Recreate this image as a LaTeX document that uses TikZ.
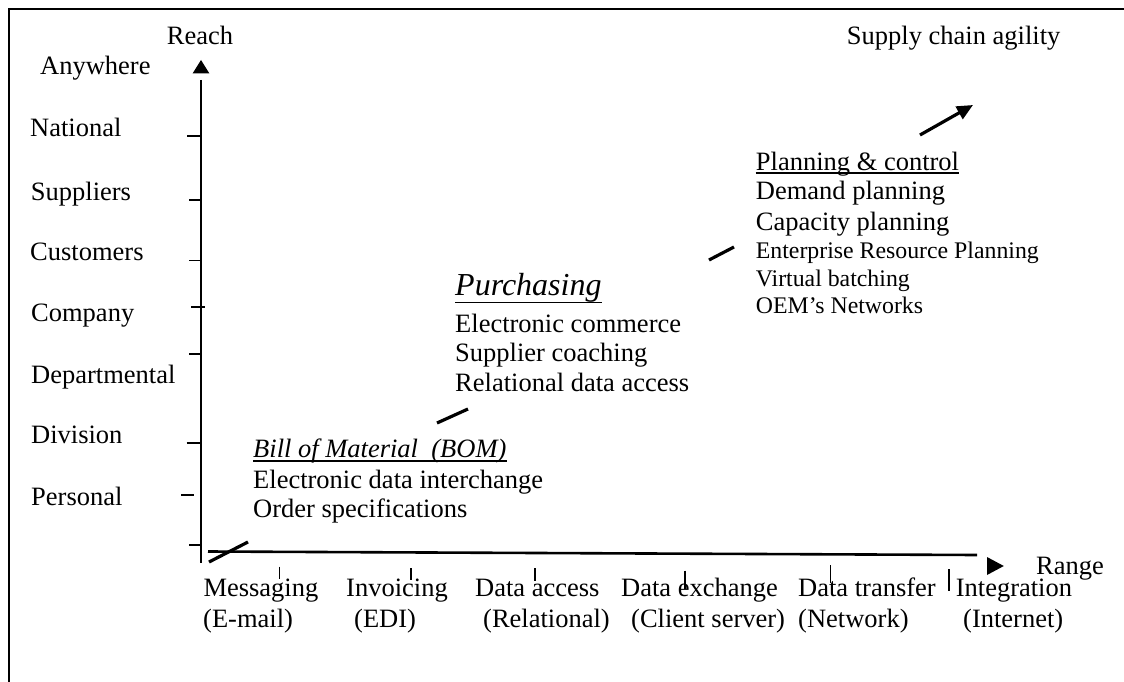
\documentclass[tikz,border=0pt]{standalone}
\usepackage{fontspec}
\setmainfont{Liberation Serif}
\usetikzlibrary{arrows.meta}
\begin{document}
\begin{tikzpicture}[x=1pt,y=-1pt,
  lbl/.style={inner sep=0pt,anchor=base west,font=\fontsize{26.5}{30}\selectfont},
  sml/.style={inner sep=0pt,anchor=base west,font=\fontsize{23.8}{28}\selectfont},
  big/.style={inner sep=0pt,anchor=base west,font=\fontsize{32}{36}\selectfont\itshape},
  itl/.style={inner sep=0pt,anchor=base west,font=\fontsize{26.5}{30}\selectfont\itshape},
  axisline/.style={line width=1.7pt},
  tickline/.style={line width=1.4pt},
  seg/.style={line width=3.2pt},
  uline/.style={line width=1.4pt},
  frameline/.style={line width=2pt}]
\useasboundingbox (0,0) rectangle (1124,682);
% frame (left and top edges)
\draw[frameline] (9,682) -- (9,9.5) -- (1124,9.5);

% vertical axis
\draw[axisline] (201,80) -- (201,563);
\fill (201,60) -- (192.7,73.3) -- (209.3,73.3) -- cycle;
\draw[tickline] (187.3,136) -- (201,136);
\draw[tickline] (189,200) -- (201,200);
\draw[tickline] (189,260.7) -- (201,260.7);
\draw[tickline] (191,307) -- (204.7,307);
\draw[tickline] (189,354) -- (201,354);
\draw[tickline] (186.7,443) -- (201,443);
\draw[tickline] (181,495) -- (194.3,495);
\draw[tickline] (189,545) -- (201,545);

% horizontal axis
\draw[line width=2.6pt] (208,551.5) -- (977,555);
\fill (1003.8,566) -- (987,557) -- (987,575) -- cycle;
\draw[tickline] (279.3,566.7) -- (279.3,579);
\draw[tickline] (411,568) -- (411,580);
\draw[tickline] (535,568) -- (535,581);
\draw[tickline] (685,570.7) -- (685,589);
\draw[tickline] (830.7,565) -- (830.7,582.7);
\draw[tickline] (949,569) -- (949,591);

% axis titles
\node[lbl] (reach) at (166.7,45) {Reach};
\node[lbl] (range) at (1036,574.7) {Range};
\node[lbl] (sca) at (846.7,45) {Supply chain agility};

% reach levels
\node[lbl] (anywhere) at (40,75) {Anywhere};
\node[lbl] (national) at (30,136.7) {National};
\node[lbl] (suppliers) at (30.7,200) {Suppliers};
\node[lbl] (customers) at (30,260) {Customers};
\node[lbl] (company) at (31,321) {Company};
\node[lbl] (departmental) at (31,383) {Departmental};
\node[lbl] (division) at (31,443) {Division};
\node[lbl] (personal) at (31,505) {Personal};

% range levels
\node[lbl] (messaging) at (203.3,596.7) {Messaging};
\node[lbl] (invoicing) at (346,596.7) {Invoicing};
\node[lbl] (dataaccess) at (475,596.7) {Data access};
\node[lbl] (dataexchange) at (621,596.7) {Data exchange};
\node[lbl] (datatransfer) at (798,596.7) {Data transfer};
\node[lbl] (integration) at (955.6,596.7) {Integration};
\node[lbl] (email) at (203,627) {(E-mail)};
\node[lbl] (edi) at (354,627) {(EDI)};
\node[lbl] (relational) at (483,627) {(Relational)};
\node[lbl] (clientserver) at (631,627) {(Client server)};
\node[lbl] (network) at (798,627) {(Network)};
\node[lbl] (internet) at (963,627) {(Internet)};

% BOM group
\node[itl] (bom) at (253,457) {Bill of Material~~(BOM)};
\draw[uline] ([yshift=-4pt]bom.base west) -- ([yshift=-4pt]bom.base east);
\node[lbl] (edinter) at (253,488.3) {Electronic data interchange};
\node[lbl] (orderspec) at (253,517.3) {Order specifications};

% Purchasing group
\node[big] (purch) at (455,295) {Purchasing};
\draw[uline] ([yshift=-7.5pt]purch.base west) -- ([yshift=-7.5pt]purch.base east);
\node[lbl] (ecommerce) at (455,332.7) {Electronic commerce};
\node[lbl] (coaching) at (455,361.7) {Supplier coaching};
\node[lbl] (rda) at (455,391.7) {Relational data access};

% Planning group
\node[lbl] (plan) at (755.7,170) {Planning \& control};
\draw[uline] ([yshift=-3pt]plan.base west) -- ([yshift=-3pt]plan.base east);
\node[lbl] (demand) at (755.7,199.3) {Demand planning};
\node[lbl] (capacity) at (755.7,230) {Capacity planning};
\node[sml] (erp) at (755.7,258) {Enterprise Resource Planning};
\node[sml] (virtual) at (755.7,286.7) {Virtual batching};
\node[sml] (oem) at (755.7,313) {OEM’s Networks};

% growth arrow, interrupted by the text groups
\coordinate (a1) at (209,562);
\coordinate (a2) at (248,542);
\coordinate (b1) at (437,423);
\coordinate (b2) at (468,409);
\coordinate (c1) at (709,260);
\coordinate (c2) at (734,247);
\coordinate (d1) at (920,135);
\coordinate (d2) at (973,105);
\draw[seg] (a1) -- (a2);
\draw[seg] (b1) -- (b2);
\draw[seg] (c1) -- (c2);
\draw[seg,-{Triangle[length=16pt,width=14pt]}] (d1) -- (d2);
\end{tikzpicture}
\end{document}
